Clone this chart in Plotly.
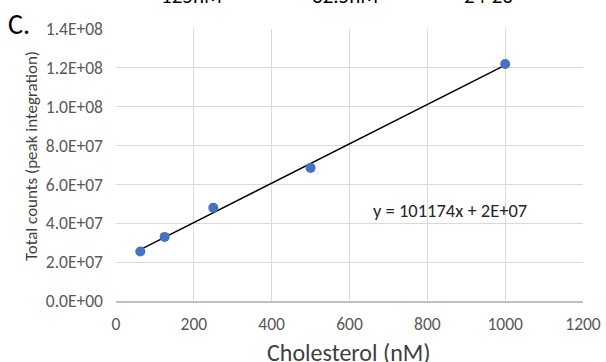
import numpy as np
import plotly.graph_objects as go

cholesterol_nM = [62.5, 125, 250, 500, 1000]
total_counts = [2.55e7, 3.3e7, 4.8e7, 6.85e7, 1.22e8]
y_tick_vals = [0, 2e7, 4e7, 6e7, 8e7, 1e8, 1.2e8, 1.4e8]
y_tick_text = ["0.0E+00", "2.0E+07", "4.0E+07", "6.0E+07", "8.0E+07", "1.0E+08", "1.2E+08", "1.4E+08"]
x_tick_vals = [0, 200, 400, 600, 800, 1000, 1200]
top_labels = ["125nM", "62.5nM", "24-26"]

slope, intercept = np.polyfit(cholesterol_nM, total_counts, 1)
x_fit = [min(cholesterol_nM), max(cholesterol_nM)]
y_fit = [slope * v + intercept for v in x_fit]

FONT = "Calibri, Carlito, Open Sans, sans-serif"
L, R, T, B = 116, 583, 29, 301
W, H = 606, 362

def px(xp):
    return (xp - L) / (R - L)

def py(yp):
    return (B - yp) / (B - T)

fig = go.Figure()
fig.add_trace(go.Scatter(x=x_fit, y=y_fit, mode="lines",
                         line=dict(color="black", width=1.5), hoverinfo="skip"))
fig.add_trace(go.Scatter(x=cholesterol_nM, y=total_counts, mode="markers",
                         marker=dict(color="#4472C4", size=10)))

fig.update_layout(
    width=W, height=H,
    margin=dict(l=L, r=W - R, t=T, b=H - B, autoexpand=False),
    paper_bgcolor="white", plot_bgcolor="white",
    showlegend=False,
    font=dict(family=FONT, color="#595959", size=17.5),
    xaxis=dict(range=[0, 1200], tickvals=x_tick_vals, showgrid=True, automargin=False,
               gridcolor="#d9d9d9", gridwidth=1, zeroline=False,
               showline=True, linecolor="#bfbfbf", linewidth=1.5,
               ticks="", ticklabelstandoff=6),
    yaxis=dict(range=[0, 1.4e8], tickvals=y_tick_vals, ticktext=y_tick_text, automargin=False,
               showgrid=True, gridcolor="#d9d9d9", gridwidth=1, zeroline=False,
               showline=False, ticks="", ticklabelstandoff=12),
)

# y-axis title
fig.add_annotation(xref="paper", yref="paper", x=px(31), y=py(156), xanchor="center", yanchor="middle",
                   text="Total counts (peak integration)", textangle=-90, showarrow=False,
                   font=dict(size=17, color="#404040"))
# x-axis title
fig.add_annotation(xref="paper", yref="paper", x=px(349), y=py(352), xanchor="center", yanchor="middle",
                   text="Cholesterol (nM)", showarrow=False, font=dict(size=24, color="#404040"))
# panel letter
fig.add_annotation(xref="paper", yref="paper", x=px(6), y=py(24), xanchor="left", yanchor="middle",
                   text="C.", showarrow=False, font=dict(size=28, color="black"))
# equation
fig.add_annotation(xref="x", yref="y", x=858, y=4.67e7, xanchor="center", yanchor="middle",
                   text="y = 101174x + 2E+07", showarrow=False, font=dict(size=18.5, color="#262626"))

for lbl, xpos in zip(top_labels, [191, 345, 488]):
    fig.add_annotation(xref="paper", yref="paper", x=px(xpos), y=py(-4), xanchor="center", yanchor="middle",
                       text=lbl, showarrow=False, font=dict(size=21, color="black"))

fig.write_html("out.html", config={"displayModeBar": False},
               post_script="document.body.style.margin='0';document.body.style.overflow='hidden';")
